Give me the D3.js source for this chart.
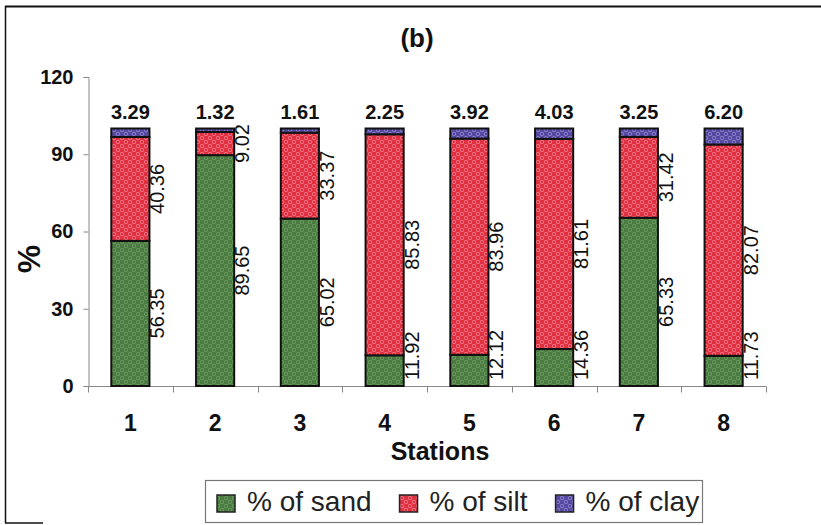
<!DOCTYPE html>
<html>
<head>
<meta charset="utf-8">
<script src="https://cdn.jsdelivr.net/npm/d3@7"></script>
<style>
  html, body { margin: 0; padding: 0; background: #fff; }
  svg { display: block; font-family: "Liberation Sans", Arial, sans-serif; }
</style>
</head>
<body>
<svg id="chart" width="821" height="525"></svg>
<script>
// ---- data ----
const stations = ["1", "2", "3", "4", "5", "6", "7", "8"];
const sand = [56.35, 89.65, 65.02, 11.92, 12.12, 14.36, 65.33, 11.73];
const silt = [40.36, 9.02, 33.37, 85.83, 83.96, 81.61, 31.42, 82.07];
const clay = [3.29, 1.32, 1.61, 2.25, 3.92, 4.03, 3.25, 6.20];
const clayLabels = ["3.29", "1.32", "1.61", "2.25", "3.92", "4.03", "3.25", "6.20"];
const yTicks = [0, 30, 60, 90, 120];
const seriesNames = ["% of sand", "% of silt", "% of clay"];
const seriesKeys = ["sand", "silt", "clay"];

// ---- setup ----
const svg = d3.select("#chart");
const defs = svg.append("defs");
const styles = {
  sand: { base: "#4a7c42", dot: "#6e9c62" },
  silt: { base: "#e0303f", dot: "#f27a8e" },
  clay: { base: "#5548a2", dot: "#8d86cc" }
};
seriesKeys.forEach(k => {
  const p = defs.append("pattern").attr("id", "pat-" + k)
    .attr("patternUnits", "userSpaceOnUse").attr("width", 8).attr("height", 8);
  p.append("rect").attr("width", 8).attr("height", 8).attr("fill", styles[k].base);
  p.append("circle").attr("cx", 2).attr("cy", 2).attr("r", 1.8).attr("fill", "none")
    .attr("stroke", styles[k].dot).attr("stroke-width", 0.9);
  p.append("circle").attr("cx", 6).attr("cy", 6).attr("r", 1.8).attr("fill", "none")
    .attr("stroke", styles[k].dot).attr("stroke-width", 0.9);
});

const x = d3.scaleBand().domain(stations).range([88, 766])
  .paddingInner(0.55).paddingOuter(0.275);
const y = d3.scaleLinear().domain([0, 120]).range([386, 77]);

const rows = stations.map((s, i) => ({ station: s, sand: sand[i], silt: silt[i], clay: clay[i], clayLabel: clayLabels[i] }));
const stack = d3.stack().keys(seriesKeys)(rows);

// frame
svg.append("line").attr("x1", 5).attr("x2", 821).attr("y1", 6.5).attr("y2", 6.5).attr("stroke", "#111").attr("stroke-width", 2);
svg.append("line").attr("x1", 5.5).attr("x2", 5.5).attr("y1", 6).attr("y2", 523).attr("stroke", "#111").attr("stroke-width", 1.5);
svg.append("line").attr("x1", 5).attr("x2", 43).attr("y1", 523).attr("y2", 523).attr("stroke", "#111").attr("stroke-width", 1.5);

// title
svg.append("text").attr("x", 417).attr("y", 47).attr("text-anchor", "middle")
  .attr("font-size", 26).attr("font-weight", "bold").attr("fill", "#111").text("(b)");

// y axis
const yAxis = d3.axisLeft(y).tickValues(yTicks).tickSize(5).tickPadding(10);
const gy = svg.append("g").attr("transform", "translate(88.5,0)").call(yAxis);
gy.select(".domain").attr("stroke", "#888");
gy.selectAll(".tick line").attr("stroke", "#888");
gy.selectAll(".tick text").attr("font-size", 20).attr("font-weight", "bold")
  .attr("font-family", "Liberation Sans, Arial, sans-serif").attr("fill", "#111");

// x axis
const gx = svg.append("g").attr("transform", "translate(0,386.5)");
gx.append("line").attr("x1", 88).attr("x2", 766).attr("stroke", "#888");
const step = x.step();
d3.range(stations.length + 1).forEach(i => {
  const xx = Math.round(88 + i * step) + 0.5;
  gx.append("line").attr("x1", xx).attr("x2", xx).attr("y1", 0).attr("y2", 6).attr("stroke", "#888");
});
gx.selectAll("text.xt").data(stations).join("text").attr("class", "xt")
  .attr("x", d => x(d) + x.bandwidth() / 2).attr("y", 44)
  .attr("text-anchor", "middle").attr("font-size", 23).attr("font-weight", "bold").attr("fill", "#111")
  .text(d => d);

// axis titles
svg.append("text").attr("x", 440).attr("y", 460).attr("text-anchor", "middle")
  .attr("font-size", 25).attr("font-weight", "bold").attr("fill", "#111").text("Stations");
svg.append("text").attr("transform", "translate(40,259) rotate(-90)").attr("text-anchor", "middle")
  .attr("font-size", 32).attr("font-weight", "bold").attr("fill", "#111").text("%");

// bars
stack.forEach(layer => {
  svg.append("g").selectAll("rect").data(layer).join("rect")
    .attr("x", d => x(d.data.station))
    .attr("width", x.bandwidth())
    .attr("y", d => y(d[1]))
    .attr("height", d => y(d[0]) - y(d[1]))
    .attr("fill", "url(#pat-" + layer.key + ")")
    .attr("stroke", "#111").attr("stroke-width", 2);
});

// clay labels above bars
svg.append("g").selectAll("text").data(rows).join("text")
  .attr("x", d => x(d.station) + x.bandwidth() / 2)
  .attr("y", y(100) - 10)
  .attr("text-anchor", "middle").attr("font-size", 20).attr("font-weight", "bold").attr("fill", "#111")
  .text(d => d.clayLabel);

// rotated labels for sand & silt
["sand", "silt"].forEach(k => {
  const layer = stack.find(l => l.key === k);
  layer.forEach(d => {
    const bx = x(d.data.station) + x.bandwidth() + 15;
    const t = svg.append("text").attr("font-size", 20).attr("fill", "#111")
      .attr("text-anchor", "middle").text(d.data[k].toFixed(2));
    const len = t.node().getComputedTextLength();
    let cy = (y(d[0]) + y(d[1])) / 2;
    const bottom = y(0) - 6;
    if (cy + len / 2 > bottom) cy = bottom - len / 2;
    t.attr("transform", `translate(${bx},${cy}) rotate(-90)`);
  });
});

// legend
const lg = svg.append("g");
lg.append("rect").attr("x", 205.5).attr("y", 480.5).attr("width", 497).attr("height", 42)
  .attr("fill", "#fff").attr("stroke", "#777").attr("stroke-width", 1.2);
let lx = 217;
seriesKeys.forEach((k, i) => {
  lg.append("rect").attr("x", lx).attr("y", 495).attr("width", 18).attr("height", 17)
    .attr("fill", "url(#pat-" + k + ")").attr("stroke", "#222").attr("stroke-width", 1.5);
  const t = lg.append("text").attr("x", lx + 30).attr("y", 511).attr("font-size", 28)
    .attr("fill", "#222").text(seriesNames[i]);
  lx += 30 + t.node().getComputedTextLength() + 28;
});
</script>
</body>
</html>
